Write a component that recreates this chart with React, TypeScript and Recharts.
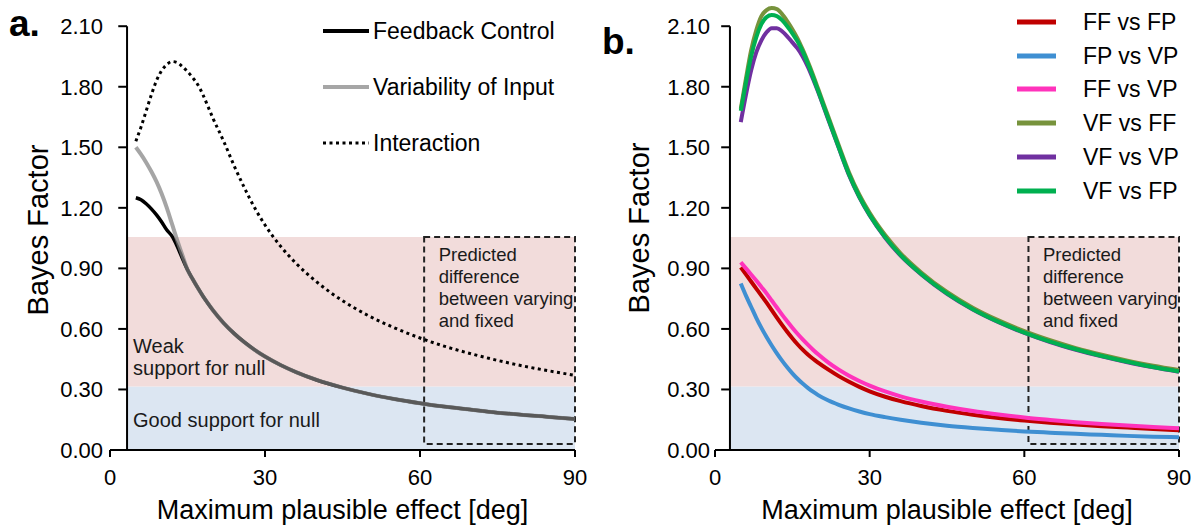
import React from 'react';
import {
  LineChart,
  Line,
  XAxis,
  YAxis,
  ReferenceArea,
  ReferenceLine,
  Legend,
  Customized,
} from 'recharts';

const FONT = '"Liberation Sans", Arial, Helvetica, sans-serif';

// ---------- data ----------
const effect = [5, 6, 7, 8, 9, 10, 11, 12, 13, 14, 15, 16, 17, 18, 19, 20, 22, 24, 26, 28, 30, 33, 36, 40, 45, 50, 55, 60, 65, 70, 75, 80, 85, 90];

const feedbackControl = [1.25, 1.24, 1.22, 1.195, 1.165, 1.13, 1.09, 1.06, 1.01, 0.95, 0.893, 0.847, 0.803, 0.762, 0.725, 0.69, 0.629, 0.578, 0.534, 0.496, 0.463, 0.421, 0.386, 0.347, 0.309, 0.278, 0.253, 0.232, 0.214, 0.199, 0.185, 0.174, 0.164, 0.154];
const variabilityInput = [1.5, 1.465, 1.425, 1.38, 1.33, 1.27, 1.2, 1.12, 1.04, 0.965, 0.893, 0.847, 0.803, 0.762, 0.725, 0.69, 0.629, 0.578, 0.534, 0.496, 0.463, 0.421, 0.386, 0.347, 0.309, 0.278, 0.253, 0.232, 0.214, 0.199, 0.185, 0.174, 0.164, 0.154];
const interaction = [1.53, 1.6, 1.68, 1.76, 1.83, 1.88, 1.91, 1.925, 1.92, 1.9, 1.875, 1.845, 1.81, 1.76, 1.7, 1.64, 1.53, 1.41, 1.3, 1.2, 1.115, 1.01, 0.925, 0.833, 0.74, 0.666, 0.606, 0.555, 0.512, 0.476, 0.444, 0.416, 0.392, 0.37];

const ffVsFp = [0.905, 0.87, 0.835, 0.8, 0.765, 0.73, 0.693, 0.656, 0.62, 0.586, 0.554, 0.524, 0.497, 0.473, 0.452, 0.433, 0.398, 0.366, 0.338, 0.313, 0.291, 0.264, 0.242, 0.218, 0.194, 0.175, 0.159, 0.146, 0.135, 0.126, 0.118, 0.111, 0.104, 0.098];
const fpVsVp = [0.825, 0.765, 0.71, 0.655, 0.605, 0.56, 0.518, 0.479, 0.443, 0.41, 0.38, 0.353, 0.329, 0.308, 0.289, 0.272, 0.245, 0.224, 0.206, 0.191, 0.178, 0.163, 0.15, 0.135, 0.12, 0.109, 0.1, 0.092, 0.086, 0.08, 0.075, 0.07, 0.066, 0.063];
const ffVsVp = [0.93, 0.9, 0.87, 0.84, 0.808, 0.776, 0.741, 0.706, 0.671, 0.638, 0.606, 0.576, 0.548, 0.522, 0.497, 0.474, 0.433, 0.398, 0.368, 0.342, 0.319, 0.29, 0.266, 0.24, 0.214, 0.193, 0.176, 0.161, 0.149, 0.138, 0.129, 0.121, 0.114, 0.108];
const vfVsFf = [1.69, 1.84, 1.98, 2.08, 2.15, 2.18, 2.19, 2.185, 2.16, 2.125, 2.085, 2.04, 1.985, 1.925, 1.86, 1.79, 1.65, 1.51, 1.375, 1.265, 1.175, 1.065, 0.975, 0.88, 0.783, 0.705, 0.642, 0.589, 0.544, 0.505, 0.472, 0.443, 0.418, 0.396];
const vfVsVp = [1.625, 1.76, 1.88, 1.97, 2.03, 2.07, 2.09, 2.09, 2.075, 2.05, 2.02, 1.99, 1.95, 1.9, 1.84, 1.775, 1.635, 1.497, 1.362, 1.252, 1.162, 1.052, 0.963, 0.87, 0.774, 0.696, 0.633, 0.58, 0.535, 0.497, 0.464, 0.435, 0.41, 0.388];
const vfVsFp = [1.68, 1.82, 1.95, 2.045, 2.11, 2.145, 2.155, 2.15, 2.13, 2.1, 2.065, 2.025, 1.975, 1.915, 1.85, 1.78, 1.64, 1.5, 1.365, 1.255, 1.165, 1.055, 0.966, 0.872, 0.776, 0.698, 0.635, 0.582, 0.537, 0.499, 0.466, 0.437, 0.411, 0.389];

const xTicks = [0, 30, 60, 90];
const yTicks = [0, 0.3, 0.6, 0.9, 1.2, 1.5, 1.8, 2.1];

const goodSupportTop = 0.315;
const weakSupportTop = 1.055;
const boxX = [60.8, 90];
const boxY = [0.03, 1.055];

const boxText = ['Predicted', 'difference', 'between varying', 'and fixed'];

const seriesA = [
  { key: 'fc', name: 'Feedback Control', values: feedbackControl, color: '#000000', legendColor: '#000000', width: 3.5, opacity: 1, dash: undefined as string | undefined },
  { key: 'vi', name: 'Variability of Input', values: variabilityInput, color: '#7f7f7f', legendColor: '#a6a6a6', width: 4, opacity: 0.7, dash: undefined as string | undefined },
  { key: 'ix', name: 'Interaction', values: interaction, color: '#000000', legendColor: '#000000', width: 3, opacity: 1, dash: '3 3.5' },
];

const seriesB = [
  { key: 'ffFp', name: 'FF vs FP', values: ffVsFp, color: '#c00000' },
  { key: 'fpVp', name: 'FP vs VP', values: fpVsVp, color: '#3f8fd2' },
  { key: 'ffVp', name: 'FF vs VP', values: ffVsVp, color: '#ff33bb' },
  { key: 'vfFf', name: 'VF vs FF', values: vfVsFf, color: '#77933c' },
  { key: 'vfVp', name: 'VF vs VP', values: vfVsVp, color: '#7030a0' },
  { key: 'vfFp', name: 'VF vs FP', values: vfVsFp, color: '#00b050' },
];

const dataA = effect.map((x, i) => {
  const row: Record<string, number> = { x };
  seriesA.forEach((s) => (row[s.key] = s.values[i]));
  return row;
});
const dataB = effect.map((x, i) => {
  const row: Record<string, number> = { x };
  seriesB.forEach((s) => (row[s.key] = s.values[i]));
  return row;
});

// ---------- helpers ----------
const BandText = (props: any) => {
  const { viewBox, lines, fromBottom, top } = props;
  if (!viewBox) return null;
  const x = viewBox.x + 6;
  return (
    <text fontFamily={FONT} fontSize={20} fill="#1a1a1a">
      {lines.map((l: string, i: number) => {
        const y = fromBottom
          ? viewBox.y + viewBox.height - 11.5 - (lines.length - 1 - i) * 22
          : viewBox.y + top + i * 22;
        return (
          <tspan key={i} x={x} y={y}>
            {l}
          </tspan>
        );
      })}
    </text>
  );
};

const BoxText = (props: any) => {
  const { viewBox } = props;
  if (!viewBox) return null;
  return (
    <text fontFamily={FONT} fontSize={18.5} fill="#1a1a1a">
      {boxText.map((l, i) => (
        <tspan key={i} x={viewBox.x + 14.5} y={viewBox.y + 23.5 + i * 22.3}>
          {l}
        </tspan>
      ))}
    </text>
  );
};

const YTitle = (props: any) => {
  const { cx, cy } = props;
  return (
    <text
      x={cx}
      y={cy}
      transform={`rotate(-90 ${cx} ${cy})`}
      textAnchor="middle"
      dominantBaseline="central"
      fontFamily={FONT}
      fontSize={29}
      fill="#000"
    >
      Bayes Factor
    </text>
  );
};

const axisSegments = (ax: number, tickLen: number) => [
  <ReferenceLine
    key="yaxis"
    segment={[
      { x: ax, y: 0 },
      { x: ax, y: 2.1 },
    ]}
    stroke="#000"
    strokeWidth={2}
    ifOverflow="visible"
  />,
  ...yTicks
    .filter((t) => t > 0)
    .map((t) => (
      <ReferenceLine
        key={'t' + t}
        segment={[
          { x: ax - tickLen, y: t },
          { x: ax, y: t },
        ]}
        stroke="#000"
        strokeWidth={2}
        ifOverflow="visible"
      />
    )),
];

const LegendA = () => (
  <div style={{ position: 'relative', width: 270, height: 140, fontFamily: FONT }}>
    {seriesA.map((s, i) => (
      <div
        key={s.key}
        style={{ position: 'absolute', left: 0, top: i * 56, height: 24, display: 'flex', alignItems: 'center', whiteSpace: 'nowrap' }}
      >
        <svg width={46} height={24} style={{ display: 'block' }}>
          <line x1={0} x2={46} y1={12} y2={12} stroke={s.legendColor} strokeWidth={s.dash ? 3 : 4} strokeDasharray={s.dash} />
        </svg>
        <span style={{ marginLeft: 4, fontSize: 23, lineHeight: '24px', color: '#000' }}>{s.name}</span>
      </div>
    ))}
  </div>
);

const LegendB = () => (
  <div style={{ position: 'relative', width: 170, height: 200, fontFamily: FONT }}>
    {seriesB.map((s, i) => (
      <div
        key={s.key}
        style={{ position: 'absolute', left: 0, top: i * 33.7, height: 24, display: 'flex', alignItems: 'center', whiteSpace: 'nowrap' }}
      >
        <svg width={39} height={24} style={{ display: 'block' }}>
          <line x1={0} x2={39} y1={12} y2={12} stroke={s.color} strokeWidth={5} />
        </svg>
        <span style={{ marginLeft: 27, fontSize: 23, lineHeight: '24px', color: '#000' }}>{s.name}</span>
      </div>
    ))}
  </div>
);

const tickStyle = { fontSize: 22, fill: '#000', fontFamily: FONT };
const xTitle = { value: 'Maximum plausible effect [deg]', position: 'insideBottom' as const, offset: 8, fontSize: 27, fill: '#000', fontFamily: FONT };

export default function App() {
  return (
    <div style={{ position: 'absolute', left: 0, top: 0, width: 1198, height: 527, background: '#fff' }}>
      {/* Panel a */}
      <div style={{ position: 'absolute', left: 0, top: 0 }}>
        <LineChart width={600} height={527} data={dataA} margin={{ top: 2, right: 25, bottom: 0, left: 0 }}>
          <ReferenceArea x1={3.3} x2={90} y1={0} y2={goodSupportTop} fill="#dce6f2" fillOpacity={1} stroke="none"
            label={<BandText lines={['Good support for null']} top={40.5} />} />
          <ReferenceArea x1={3.3} x2={90} y1={goodSupportTop} y2={weakSupportTop} fill="#f2dcdb" fillOpacity={1} stroke="none"
            label={<BandText lines={['Weak', 'support for null']} fromBottom />} />
          <XAxis
            type="number"
            dataKey="x"
            domain={[0, 90]}
            ticks={xTicks}
            height={77}
            tickSize={7}
            tickMargin={12}
            tick={tickStyle}
            axisLine={{ stroke: '#000', strokeWidth: 2 }}
            tickLine={{ stroke: '#000', strokeWidth: 2 }}
            label={xTitle}
          />
          <YAxis
            type="number"
            domain={[0, 2.22]}
            ticks={yTicks}
            width={110}
            axisLine={false}
            tickLine={false}
            tickSize={0}
            tickMargin={7}
            tick={tickStyle}
            tickFormatter={(v: number) => v.toFixed(2)}
          />
          {axisSegments(3.3, 1.7)}
          {seriesA.map((s) => (
            <Line
              key={s.key}
              dataKey={s.key}
              name={s.name}
              type="monotone"
              stroke={s.color}
              strokeOpacity={s.opacity}
              strokeWidth={s.width}
              strokeDasharray={s.dash}
              dot={false}
              activeDot={false}
              isAnimationActive={false}
            />
          ))}
          <ReferenceArea x1={boxX[0]} x2={boxX[1]} y1={boxY[0]} y2={boxY[1]} fill="none" fillOpacity={0}
            stroke="#222" strokeWidth={2} strokeDasharray="6 4" label={<BoxText />} />
          <Legend layout="vertical" align="center" verticalAlign="middle" content={<LegendA />}
            wrapperStyle={{ left: 323, top: 19, width: 270 }} />
          <Customized component={() => <YTitle cx={38} cy={230} />} />
          <Customized component={() => (
            <text x={9} y={36} fontFamily={FONT} fontSize={37} fontWeight="bold" fill="#000">a.</text>
          )} />
        </LineChart>
      </div>

      {/* Panel b */}
      <div style={{ position: 'absolute', left: 600, top: 0 }}>
        <LineChart width={598} height={527} data={dataB} margin={{ top: 2, right: 19, bottom: 0, left: 0 }}>
          <ReferenceArea x1={2.9} x2={90} y1={0} y2={goodSupportTop} fill="#dce6f2" fillOpacity={1} stroke="none" />
          <ReferenceArea x1={2.9} x2={90} y1={goodSupportTop} y2={weakSupportTop} fill="#f2dcdb" fillOpacity={1} stroke="none" />
          <XAxis
            type="number"
            dataKey="x"
            domain={[0, 90]}
            ticks={xTicks}
            height={77}
            tickSize={7}
            tickMargin={12}
            tick={tickStyle}
            axisLine={{ stroke: '#000', strokeWidth: 2 }}
            tickLine={{ stroke: '#000', strokeWidth: 2 }}
            label={xTitle}
          />
          <YAxis
            type="number"
            domain={[0, 2.22]}
            ticks={yTicks}
            width={115}
            axisLine={false}
            tickLine={false}
            tickSize={0}
            tickMargin={5}
            tick={tickStyle}
            tickFormatter={(v: number) => v.toFixed(2)}
          />
          {axisSegments(2.9, 1.7)}
          {seriesB.map((s) => (
            <Line
              key={s.key}
              dataKey={s.key}
              name={s.name}
              type="monotone"
              stroke={s.color}
              strokeWidth={4}
              dot={false}
              activeDot={false}
              isAnimationActive={false}
            />
          ))}
          <ReferenceArea x1={boxX[0]} x2={boxX[1]} y1={boxY[0]} y2={boxY[1]} fill="none" fillOpacity={0}
            stroke="#222" strokeWidth={2} strokeDasharray="6 4" label={<BoxText />} />
          <Legend layout="vertical" align="center" verticalAlign="middle" content={<LegendB />}
            wrapperStyle={{ left: 417, top: 10, width: 170 }} />
          <Customized component={() => <YTitle cx={39} cy={228} />} />
          <Customized component={() => (
            <text x={2} y={54} fontFamily={FONT} fontSize={37} fontWeight="bold" fill="#000">b.</text>
          )} />
        </LineChart>
      </div>
    </div>
  );
}
